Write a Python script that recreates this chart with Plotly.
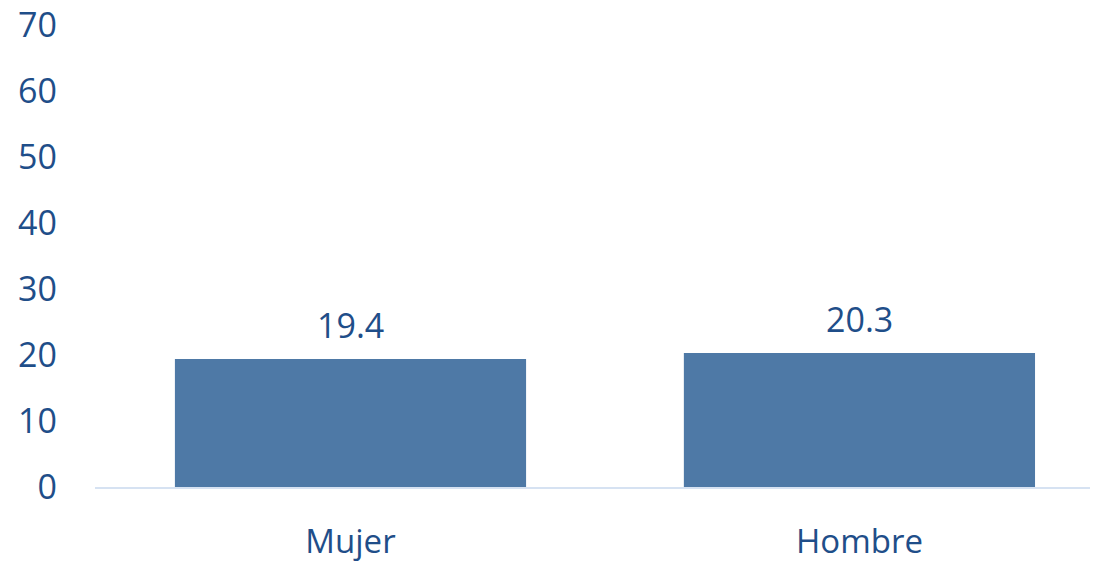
import plotly.graph_objects as go

categories = ["Mujer", "Hombre"]
values = [19.4, 20.3]
value_labels = ["19.4", "20.3"]
y_ticks = [0, 10, 20, 30, 40, 50, 60, 70]

TEXT = "#1F4E89"
BAR = "#4E79A6"
FONT = "Open Sans"

fig = go.Figure()
fig.add_trace(go.Bar(
    x=[0, 1], y=values, width=0.69,
    marker=dict(color=BAR, line=dict(width=0)),
    hoverinfo="skip",
))
for i, (v, t) in enumerate(zip(values, value_labels)):
    fig.add_annotation(x=i, y=v, text=t, showarrow=False, yanchor="bottom",
                       yshift=9, font=dict(family=FONT, size=34, color=TEXT))

fig.update_layout(
    width=1104, height=563,
    margin=dict(l=95, r=14, t=25, b=76, autoexpand=False),
    paper_bgcolor="white", plot_bgcolor="white",
    showlegend=False,
    xaxis=dict(
        range=[-0.502, 1.453],
        tickvals=[0, 1], ticktext=categories,
        showgrid=False, zeroline=False,
        showline=True, linecolor="#D6E2F2", linewidth=2,
        ticks="", ticklabelstandoff=24, automargin=False,
        tickfont=dict(family=FONT, size=33, color=TEXT),
    ),
    yaxis=dict(
        range=[0, 70], tickvals=y_ticks,
        showgrid=False, zeroline=False, showline=False,
        ticks="", ticklabelstandoff=37, automargin=False,
        tickfont=dict(family=FONT, size=34, color=TEXT),
    ),
)
fig.write_html("out.html", post_script="document.body.style.margin='0';",
               config={"displayModeBar": False})
